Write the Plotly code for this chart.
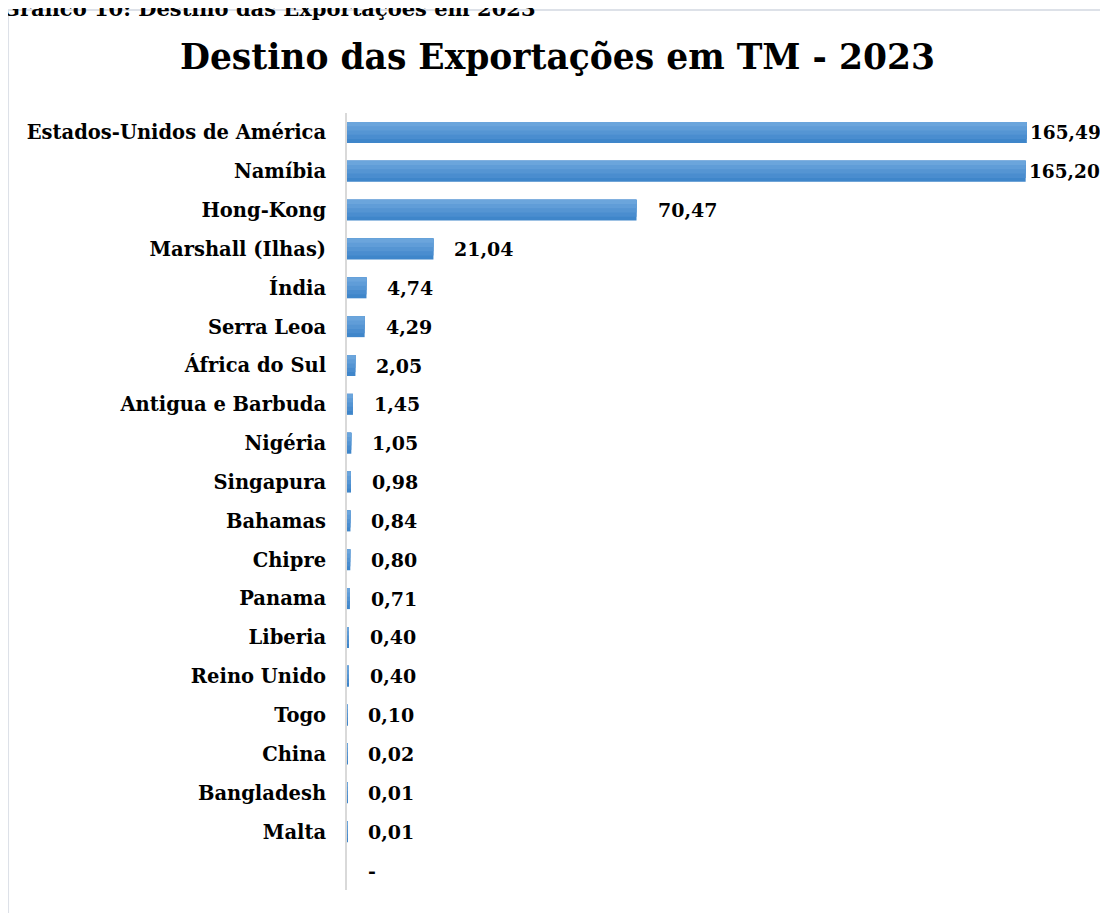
import plotly.graph_objects as go

countries = [
    "Estados-Unidos de América", "Namíbia", "Hong-Kong", "Marshall (Ilhas)", "Índia",
    "Serra Leoa", "África do Sul", "Antigua e Barbuda", "Nigéria", "Singapura",
    "Bahamas", "Chipre", "Panama", "Liberia", "Reino Unido", "Togo", "China",
    "Bangladesh", "Malta", " ",
]
values = [
    165.49, 165.20, 70.47, 21.04, 4.74, 4.29, 2.05, 1.45, 1.05, 0.98,
    0.84, 0.80, 0.71, 0.40, 0.40, 0.10, 0.02, 0.01, 0.01, 0.0,
]

title_text = "Destino das Exportações em TM - 2023"
caption_text = "Gráfico 10: Destino das Exportações em 2023"

FONT = "DejaVu Serif"

def fmt(v):
    return "-" if v == 0 else f"{v:.2f}".replace(".", ",")

fig = go.Figure()

# stepped gradient: darker bottom, lighter top
layers = [(0.54, "#3f86ca"), (0.44, "#4a8dcf"), (0.33, "#5595d3"),
          (0.22, "#609dd8"), (0.11, "#6ba5dc")]
for w, c in layers:
    fig.add_trace(go.Bar(
        x=values, y=countries, orientation="h",
        width=w, offset=-0.27,
        marker=dict(color=c, line=dict(width=0)),
        hoverinfo="skip" if w != 0.54 else None,
        showlegend=False,
    ))

for cat, v in zip(countries, values):
    big = v > 150
    fig.add_annotation(
        x=v, y=cat, xref="x", yref="y",
        text=f"<b>{fmt(v)}</b>", showarrow=False,
        xanchor="left", yanchor="middle",
        xshift=1 if big else 19,
        font=dict(family=FONT, size=18.5 if big else 19, color="#000000"),
    )

fig.add_annotation(
    x=0.2776, y=1.072, xref="paper", yref="paper",
    text=f"<b>{title_text}</b>", showarrow=False,
    xanchor="center", yanchor="middle",
    font=dict(family=FONT, size=34.5, color="#000000"),
)
fig.add_annotation(
    x=-0.4566, y=1.1157, xref="paper", yref="paper",
    text=f"<b>{caption_text}</b>", showarrow=False,
    xanchor="left", yanchor="bottom",
    font=dict(family=FONT, size=21, color="#000000"),
)

fig.add_shape(
    type="rect", xref="paper", yref="paper",
    x0=-0.446, x1=1.02, y0=-0.2, y1=1.1326,
    line=dict(color="#dde1e8", width=2), fillcolor="rgba(0,0,0,0)",
    layer="below",
)

fig.update_layout(
    width=1100, height=905,
    margin=dict(l=339, r=1, t=105, b=23),
    paper_bgcolor="white", plot_bgcolor="white",
    barmode="overlay",
    xaxis=dict(range=[0, 185], visible=False, fixedrange=True),
    yaxis=dict(
        autorange="reversed", type="category",
        showline=True, linecolor="#d9d9d9", linewidth=2,
        showgrid=False, ticks="", ticklabelstandoff=15,
        tickfont=dict(family=FONT, size=19.5, color="#000000"),
        tickprefix="<b>", ticksuffix="</b>",
    ),
    font=dict(family=FONT),
)

fig.write_html("out.html")
